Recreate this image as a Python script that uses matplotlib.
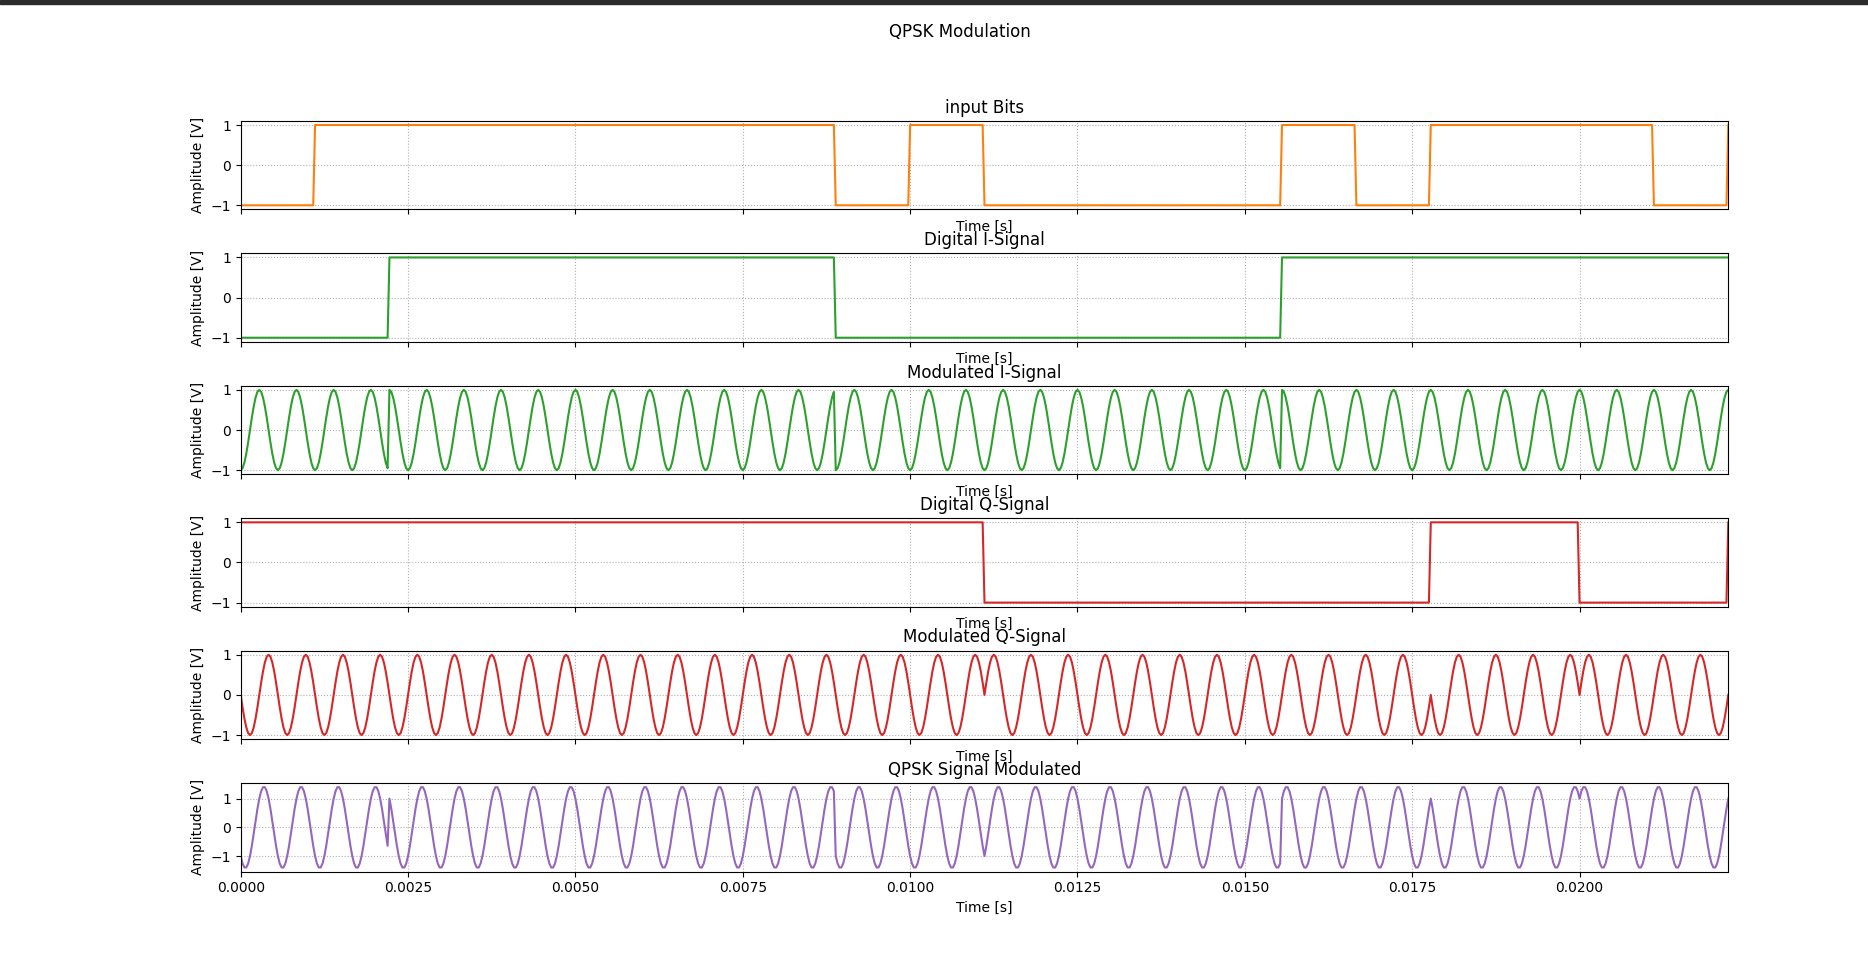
import matplotlib
matplotlib.use("Agg")
import matplotlib.pyplot as plt
import numpy as np
from matplotlib.patches import Rectangle

# input bit sequence
bits = [0, 1, 1, 1, 1, 1, 1, 1, 0, 1, 0, 0, 0, 0, 1, 0, 1, 1, 1, 0]

# system parameters
bit_rate = 900.0          # bits per second
fc = 1800.0               # carrier frequency [Hz]
samples_per_bit = 40
fs = bit_rate * samples_per_bit

n_bits = len(bits)
t = np.arange(n_bits * samples_per_bit + 1) / fs

# NRZ levels, last sample ends high as in the original
levels = 2 * np.array(bits) - 1
i_levels = levels[0::2]
q_levels = levels[1::2]

bit_signal = np.append(np.repeat(levels, samples_per_bit), 1)
i_signal = np.append(np.repeat(i_levels, 2 * samples_per_bit), 1)
q_signal = np.append(np.repeat(q_levels, 2 * samples_per_bit), 1)

i_mod = i_signal * np.cos(2 * np.pi * fc * t)
q_mod = -q_signal * np.sin(2 * np.pi * fc * t)
qpsk = i_mod + q_mod

panels = [
    ("input Bits", bit_signal, "C1"),
    ("Digital I-Signal", i_signal, "C2"),
    ("Modulated I-Signal", i_mod, "C2"),
    ("Digital Q-Signal", q_signal, "C3"),
    ("Modulated Q-Signal", q_mod, "C3"),
    ("QPSK Signal Modulated", qpsk, "C4"),
]

fig, axes = plt.subplots(6, 1, sharex=True, figsize=(18.68, 9.67), dpi=100)
fig.subplots_adjust(left=240.7 / 1868, right=1728.3 / 1868,
                    top=1 - 121 / 967, bottom=1 - 871.5 / 967, hspace=0.5)
fig.suptitle("QPSK Modulation", x=960 / 1868, y=0.9758)

for ax, (title, sig, col) in zip(axes, panels):
    ax.plot(t, sig, color=col)
    ax.set_title(title)
    ax.set_xlabel("Time [s]")
    ax.set_ylabel("Amplitude [V]")
    ax.grid(linestyle=":")
    ax.set_xlim(t[0], t[-1])

# window title bar strip seen at the top of the screenshot
fig.patches.append(Rectangle((0, 1 - 4 / 967), 1, 4 / 967, transform=fig.transFigure,
                             color="#2b2b2b", zorder=10))

fig.savefig("out.png", dpi=100)
